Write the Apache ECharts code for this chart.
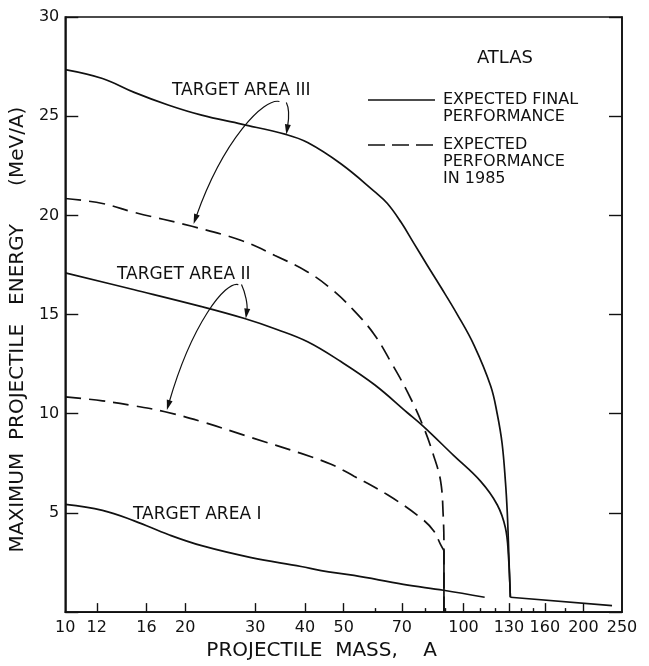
<!DOCTYPE html>
<html><head><meta charset="utf-8">
<script src="https://cdn.jsdelivr.net/npm/echarts@6/dist/echarts.min.js"></script>
<style>html,body{margin:0;padding:0;background:#fff}#chart{width:649px;height:666px}</style>
</head><body><div id="chart"></div>
<script>
// ---- data ----
const massLabels = [10, 12, 16, 20, 30, 40, 50, 70, 100, 130, 160, 200, 250];
const massMajorTicks = [12, 16, 20, 30, 40, 50, 70, 100, 130, 160, 200];
const massMinorTicks = [60, 80, 90, 110, 120, 140, 150, 180];

// Expected final performance (solid)
const finalAreaIII = [[10,27.35],[12.4,26.9],[14.9,26.2],[18.2,25.55],[22,25.05],[27.7,24.6],[35.8,24.08],[40.6,23.67],[49.2,22.6],[59.8,21.2],[64.4,20.6],[69.7,19.65],[75,18.6],[81,17.5],[87.6,16.4],[96.5,15.0],[106.3,13.45],[117,11.4],[121.5,10.0],[125,8.5],[127.5,6.5],[128.8,5.0],[129.6,3.6],[130.4,2.0],[131.1,0.75]];
const finalHeavyTail = [[131.1,0.75],[236,0.33]];
const finalAreaII = [[10,17.1],[14.9,16.25],[22,15.4],[28.2,14.8],[34,14.25],[40.6,13.63],[49.2,12.63],[59.8,11.46],[72.3,10.05],[78.9,9.4],[94.4,7.9],[110.3,6.6],[121.6,5.4],[127.4,4.25],[129.6,2.9],[131.1,0.75]];
const finalAreaI = [[10,5.43],[12.4,5.13],[14.9,4.6],[18.2,3.9],[22,3.35],[29.3,2.75],[39.1,2.3],[43.9,2.09],[53.1,1.85],[70.6,1.4],[89.1,1.1],[113,0.75]];

// Expected performance in 1985 (dashed)
const y1985AreaIII = [[10,20.85],[12.4,20.6],[14.9,20.15],[20.8,19.45],[27.7,18.73],[33.6,17.98],[40.6,17.15],[46.5,16.3],[53.1,15.2],[59.8,13.97],[65.6,12.63],[72.3,11.1],[78.9,9.45],[84.1,7.9],[87.6,6.6],[88.9,4.9],[89.3,3.25],[89.3,0]];
const y1985AreaII = [[10,10.85],[12.4,10.65],[14.9,10.4],[17.8,10.1],[22,9.6],[29.3,8.8],[39.1,8.0],[46.5,7.45],[53.1,6.85],[64.6,5.9],[78.1,4.75],[84.1,4.1],[87.6,3.4],[89.3,3.1]];
const y1985Cutoff = [[89.3,3.1],[89.3,0]];

// annotation arrows: [fromMass, fromEnergy, toMass, toEnergy, kind(0 long curved, 1 short)]
const arrowsAreaIII = [[34.5,25.74,21.0,19.57,0],[35.9,25.69,35.9,24.08,1]];
const arrowsAreaII = [[27.2,16.51,18.0,10.19,0],[27.7,16.51,28.4,14.8,1]];

// ---- chart ----
const FONT = '"DejaVu Sans", sans-serif';
const INK = '#111';
const chart = echarts.init(document.getElementById('chart'), null, {renderer: 'canvas'});

function renderArrow(params, api) {
  const s = api.coord([api.value(0), api.value(1)]);
  const e = api.coord([api.value(2), api.value(3)]);
  const kind = api.value(4);
  const dx = e[0] - s[0], dy = e[1] - s[1];
  let c1, c2;
  if (kind === 0) {
    c1 = [s[0] - 0.18 * Math.abs(dx), s[1] - 0.03 * dy];
    c2 = [e[0] + 0.35 * Math.abs(dx), e[1] - 0.69 * dy];
  } else {
    c1 = [s[0] + 4, s[1] + 0.25 * dy];
    c2 = [e[0] + 2, e[1] - 0.4 * dy];
  }
  let ux = e[0] - c2[0], uy = e[1] - c2[1];
  const len = Math.hypot(ux, uy) || 1; ux /= len; uy /= len;
  const hl = 10, hw = 3;
  const bx = e[0] - ux * hl, by = e[1] - uy * hl;
  return {
    type: 'group',
    children: [
      {type: 'bezierCurve', shape: {x1: s[0], y1: s[1], x2: bx + ux * 2, y2: by + uy * 2, cpx1: c1[0], cpy1: c1[1], cpx2: c2[0], cpy2: c2[1]},
       style: {stroke: INK, lineWidth: 1.2, fill: null}},
      {type: 'polygon', shape: {points: [[e[0], e[1]], [bx - uy * hw, by + ux * hw], [bx + uy * hw, by - ux * hw]]},
       style: {fill: INK}}
    ]
  };
}

function lineSeries(name, data, dashed, smooth) {
  return {
    name, type: 'line', data, showSymbol: false, symbol: 'none',
    smooth: smooth,
    lineStyle: {color: INK, width: 1.7, type: dashed ? [16, 8] : 'solid'},
    xAxisIndex: 0, yAxisIndex: 0, z: 3
  };
}

const option = {
  animation: false,
  backgroundColor: '#fff',
  textStyle: {fontFamily: FONT, color: INK},
  grid: {left: 63, right: 27, top: 17, bottom: 51, show: true, borderColor: INK, borderWidth: 1.6, backgroundColor: 'transparent'},
  xAxis: [
    {
      type: 'log', logBase: 10, min: 10, max: 250, position: 'bottom',
      axisLine: {show: true, lineStyle: {color: INK, width: 1.6}},
      axisTick: {show: true, inside: true, length: 9, customValues: massMajorTicks, lineStyle: {color: INK, width: 1.4}},
      axisLabel: {customValues: massLabels, fontSize: 16, color: INK, margin: 8, fontFamily: FONT},
      minorTick: {show: false}, splitLine: {show: false},
      name: 'PROJECTILE  MASS,    A', nameLocation: 'middle', nameGap: 28,
      nameTextStyle: {fontSize: 20, color: INK, fontFamily: FONT, padding: [0, 44, 0, 0]}
    },
    {
      type: 'log', logBase: 10, min: 10, max: 250, position: 'bottom',
      axisLine: {show: false},
      axisTick: {show: true, inside: true, length: 4, customValues: massMinorTicks, lineStyle: {color: INK, width: 1.4}},
      axisLabel: {show: false}, splitLine: {show: false}, minorTick: {show: false}
    }
  ],
  yAxis: [
    {
      type: 'value', min: 0, max: 30, interval: 5, position: 'left',
      axisLine: {show: true, lineStyle: {color: INK, width: 1.6}},
      axisTick: {show: true, inside: true, length: 13, lineStyle: {color: INK, width: 1.4}},
      axisLabel: {fontSize: 16, color: INK, margin: 6, fontFamily: FONT, formatter: v => (v === 0 ? '' : String(v))},
      splitLine: {show: false},
      name: 'MAXIMUM  PROJECTILE   ENERGY      (MeV/A)', nameLocation: 'middle', nameGap: 33, nameRotate: 90,
      nameTextStyle: {fontSize: 20, color: INK, fontFamily: FONT, padding: [0, 30, 0, 0]}
    },
    {
      type: 'value', min: 0, max: 30, interval: 5, position: 'right',
      axisLine: {show: true, lineStyle: {color: INK, width: 1.6}},
      axisTick: {show: true, inside: true, length: 13, lineStyle: {color: INK, width: 1.4}},
      axisLabel: {show: false}, splitLine: {show: false}
    }
  ],
  series: [
    lineSeries('Target area III – expected final performance', finalAreaIII, false, 0.4),
    lineSeries('Heavy-mass tail – expected final performance', finalHeavyTail, false, false),
    lineSeries('Target area II – expected final performance', finalAreaII, false, 0.4),
    lineSeries('Target area I – expected final performance', finalAreaI, false, 0.4),
    lineSeries('Target area III – expected performance in 1985', y1985AreaIII, true, 0.4),
    lineSeries('Target area II – expected performance in 1985', y1985AreaII, true, 0.4),
    lineSeries('1985 cutoff', y1985Cutoff, false, false),
    {
      name: 'arrows', type: 'custom', coordinateSystem: 'cartesian2d', xAxisIndex: 0, yAxisIndex: 0,
      data: arrowsAreaIII.concat(arrowsAreaII), encode: {x: [0, 2], y: [1, 3]},
      renderItem: renderArrow, z: 4, silent: true
    }
  ],
  graphic: [
    {type: 'text', x: 505, y: 58, style: {text: 'ATLAS', font: '18px ' + FONT, fill: INK, align: 'center', verticalAlign: 'middle'}},
    {type: 'line', shape: {x1: 368, y1: 100, x2: 435, y2: 100}, style: {stroke: INK, lineWidth: 1.6}},
    {type: 'text', x: 443, y: 91.5, style: {text: 'EXPECTED FINAL\nPERFORMANCE', font: '16px ' + FONT, fill: INK, align: 'left', verticalAlign: 'top', lineHeight: 17}},
    {type: 'line', shape: {x1: 368, y1: 145, x2: 435, y2: 145}, style: {stroke: INK, lineWidth: 1.6, lineDash: [17, 7]}},
    {type: 'text', x: 443, y: 136.5, style: {text: 'EXPECTED\nPERFORMANCE\nIN 1985', font: '16px ' + FONT, fill: INK, align: 'left', verticalAlign: 'top', lineHeight: 17}},
    {type: 'text', x: 172, y: 91, style: {text: 'TARGET AREA III', font: '17px ' + FONT, fill: INK, align: 'left', verticalAlign: 'middle'}},
    {type: 'text', x: 117, y: 275, style: {text: 'TARGET AREA II', font: '17px ' + FONT, fill: INK, align: 'left', verticalAlign: 'middle'}},
    {type: 'text', x: 133, y: 515, style: {text: 'TARGET AREA I', font: '17px ' + FONT, fill: INK, align: 'left', verticalAlign: 'middle'}}
  ]
};
chart.setOption(option);
</script>
</body></html>
